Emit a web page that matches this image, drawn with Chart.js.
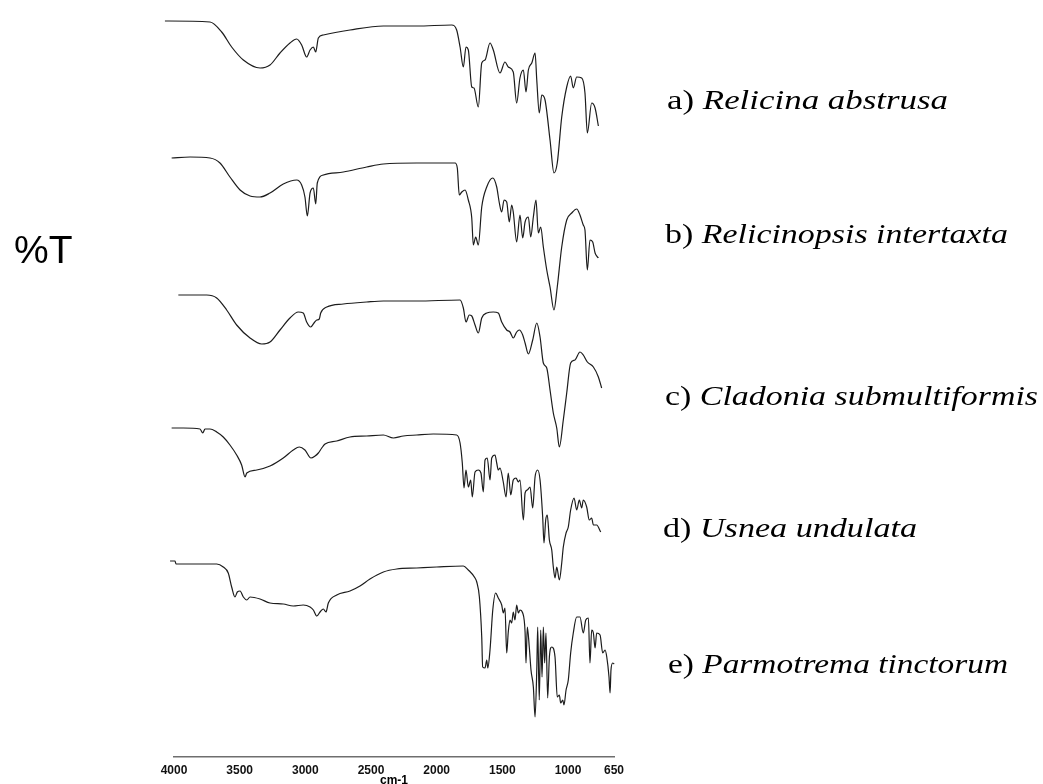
<!DOCTYPE html>
<html>
<head>
<meta charset="utf-8">
<script src="https://cdn.jsdelivr.net/npm/chart.js@4.4.1/dist/chart.umd.min.js"></script>
<style>
  html, body { margin: 0; padding: 0; background: #fff; }
  #irChart { display: block; }
</style>
</head>
<body>
<canvas id="irChart" width="1043" height="784"></canvas>
<script>
// x tick labels (wavenumber, cm-1)
const tickValues = [4000, 3500, 3000, 2500, 2000, 1500, 1000, 650];

const seriesTags = ["a)", "b)", "c)", "d)", "e)"];
const seriesNames = ["Relicina abstrusa", "Relicinopsis intertaxta", "Cladonia submultiformis", "Usnea undulata", "Parmotrema tinctorum"];

// each spectrum: wavenumber + stacked %T reading (offset traces)
const wnA = [4069,3726,3637,3561,3472,3345,3269,3193,3117,3066,3028,2990,2964,2939,2921,2901,2863,2660,2406,2152,1886,1848,1822,1797,1777,1759,1733,1716,1683,1657,1632,1594,1569,1518,1480,1455,1417,1391,1366,1340,1320,1302,1276,1251,1238,1219,1200,1175,1137,1107,1082,1048,1010,980,960,934,896,871,853,820,794,769];
const tA = [73.6,73.5,72.5,71.0,69.7,68.9,69.2,70.4,71.4,71.8,71.2,70.0,70.7,71.0,70.5,71.9,72.2,72.7,73.1,73.1,73.2,72.7,71.0,69.0,71.0,70.7,67.0,66.9,65.0,69.4,69.7,71.4,70.7,68.4,69.5,69.0,68.5,65.4,67.9,68.7,66.5,68.7,69.4,70.4,67.7,64.4,66.2,65.7,61.7,58.4,59.4,64.0,67.0,68.1,66.9,68.0,67.9,66.4,62.4,65.4,64.9,63.1];

const wnB = [4018,3878,3726,3650,3574,3497,3421,3345,3269,3168,3066,3028,3003,2985,2964,2939,2921,2909,2863,2711,2533,2406,2152,1860,1843,1828,1809,1784,1759,1733,1721,1703,1683,1657,1619,1573,1543,1523,1505,1487,1467,1447,1429,1417,1391,1366,1345,1327,1302,1284,1264,1244,1226,1208,1188,1162,1137,1107,1082,1048,1010,972,934,909,884,871,853,833,812,794,769];
const tB = [59.9,60.0,59.9,59.4,58.0,56.7,56.1,56.0,56.4,57.3,57.7,57.2,56.0,54.1,56.4,56.9,55.3,57.4,58.2,58.5,59.0,59.3,59.4,59.4,58.9,56.2,56.5,56.7,55.7,53.9,51.2,52.0,51.2,55.0,57.0,57.9,57.0,55.4,54.5,55.7,55.5,53.5,55.2,54.5,51.5,54.2,51.9,53.5,54.0,52.0,54.0,55.7,52.4,53.0,51.0,48.7,47.0,44.7,47.0,51.0,53.7,54.4,54.8,54.2,53.2,52.7,48.7,51.7,51.5,50.4,49.9];

const wnC = [3967,3751,3675,3599,3523,3421,3332,3269,3193,3117,3054,3016,2990,2959,2934,2913,2894,2883,2837,2711,2533,2406,2152,1822,1797,1777,1752,1733,1708,1683,1657,1619,1569,1531,1505,1467,1442,1417,1391,1371,1345,1327,1302,1269,1238,1213,1188,1162,1137,1112,1086,1066,1036,1010,980,947,909,884,853,807,769,744];
const tC = [46.2,46.2,45.9,44.7,43.2,41.9,41.3,41.5,42.7,43.9,44.5,44.4,43.5,43.0,43.4,43.7,43.8,44.4,45.0,45.3,45.5,45.6,45.6,45.7,44.9,43.5,44.2,44.1,43.2,42.4,43.9,44.4,44.5,44.4,43.5,42.7,42.5,41.9,42.5,42.7,42.2,41.4,40.3,41.7,43.4,42.0,39.4,38.9,36.7,34.4,32.9,31.0,33.7,36.4,39.4,39.7,40.5,40.2,39.5,39.0,38.0,36.9];

const wnD = [4018,3929,3802,3781,3764,3726,3675,3625,3574,3523,3485,3459,3446,3370,3269,3168,3092,3046,3003,2957,2926,2901,2875,2850,2761,2660,2533,2406,2330,2254,2152,2026,1848,1822,1805,1792,1777,1759,1741,1729,1708,1683,1663,1645,1632,1615,1594,1581,1556,1543,1531,1518,1493,1472,1455,1436,1417,1396,1378,1366,1340,1327,1310,1289,1269,1251,1231,1213,1193,1183,1170,1158,1142,1124,1112,1099,1086,1066,1048,1036,1015,998,980,954,934,914,896,884,858,838,820,807,782,751];
const tD = [32.9,32.9,32.8,32.4,32.8,32.8,32.5,32.0,31.2,30.2,29.2,28.0,28.4,28.7,29.1,29.9,30.7,31.0,30.7,29.9,30.1,30.4,30.9,31.3,31.6,32.0,32.1,32.2,31.9,32.1,32.2,32.3,32.2,31.4,29.4,26.9,28.7,27.0,27.7,26.0,28.5,28.7,28.4,26.5,29.7,29.9,27.7,29.9,30.2,29.4,28.7,28.9,27.5,26.0,28.4,26.2,27.7,27.9,27.5,27.7,23.7,26.4,26.7,27.0,24.9,28.0,28.7,27.7,24.0,21.4,23.7,24.2,21.7,20.7,19.0,17.9,19.0,17.7,19.4,21.0,22.4,23.0,24.7,25.9,24.7,25.7,24.9,25.7,25.0,23.7,23.9,23.2,23.2,22.5];

const wnE = [4030,3992,3985,3929,3675,3625,3587,3561,3536,3518,3497,3472,3446,3421,3345,3269,3168,3092,3016,2964,2939,2913,2888,2863,2843,2825,2761,2660,2584,2508,2406,2304,2152,2000,1797,1759,1708,1695,1675,1657,1650,1632,1619,1611,1594,1573,1551,1531,1505,1493,1480,1467,1455,1442,1429,1417,1404,1391,1378,1366,1345,1327,1320,1310,1295,1282,1264,1251,1238,1231,1219,1208,1198,1188,1178,1168,1155,1142,1124,1099,1082,1066,1056,1040,1031,1015,998,980,960,934,909,884,865,845,833,820,807,794,782,756,736,718,705,688,680,673,660,648];
const tE = [19.6,19.6,19.3,19.3,19.3,19.0,18.4,17.0,16.0,16.5,16.6,16.0,15.7,16.0,15.8,15.4,15.3,15.1,15.2,15.0,14.7,14.1,14.5,14.8,14.5,15.4,16.2,16.6,17.1,17.8,18.5,18.8,18.9,19.0,19.1,18.7,17.9,17.5,16.0,12.0,9.0,8.9,9.7,8.9,10.7,14.7,16.4,15.9,15.2,14.4,14.9,10.4,12.5,13.7,13.4,14.5,13.7,15.2,14.4,14.7,14.4,12.5,9.4,13.0,11.0,8.7,7.0,4.0,8.7,13.0,5.7,12.7,8.0,13.0,9.4,12.4,5.9,10.0,11.0,10.0,6.0,6.2,5.4,5.7,5.2,6.7,7.7,10.4,12.4,14.0,14.0,12.4,13.7,13.9,9.4,12.7,12.4,10.9,12.4,12.2,10.4,10.7,10.0,8.0,6.4,8.7,9.4,9.3];

const spectra = [[wnA, tA], [wnB, tB], [wnC, tC], [wnD, tD], [wnE, tE]];

// where the species labels sit (baseline) and how wide they run
const labelSpots = [
    { x: 667, y: 109, w: 281 },
    { x: 665, y: 243, w: 343 },
    { x: 665, y: 405, w: 373 },
    { x: 663, y: 537, w: 254 },
    { x: 668, y: 673, w: 340 }
];

const serif = '"Liberation Serif", "Times New Roman", serif';

const textPlugin = {
    id: "irText",
    beforeDraw(chart) {
        const ctx = chart.ctx;
        ctx.save();
        ctx.fillStyle = "#fff";
        ctx.fillRect(0, 0, chart.width, chart.height);
        ctx.restore();
    },
    afterDraw(chart) {
        const ctx = chart.ctx;
        ctx.save();
        ctx.fillStyle = "#000";
        ctx.textBaseline = "alphabetic";
        ctx.textAlign = "left";

        // y label
        ctx.font = '39px "Liberation Sans", Arial, sans-serif';
        ctx.fillText("%T", 14, 263);

        // species labels
        seriesTags.forEach((tag, i) => {
            const spot = labelSpots[i];
            ctx.font = "27px " + serif;
            const tagW = ctx.measureText(tag + " ").width;
            ctx.font = "italic 27px " + serif;
            const nameW = ctx.measureText(seriesNames[i]).width;
            const sx = spot.w / (tagW + nameW);
            ctx.save();
            ctx.translate(spot.x, spot.y);
            ctx.scale(sx, 1);
            ctx.font = "27px " + serif;
            ctx.fillText(tag, 0, 0);
            ctx.font = "italic 27px " + serif;
            ctx.fillText(seriesNames[i], tagW, 0);
            ctx.restore();
        });

        // x unit
        const xs = chart.scales.x;
        ctx.font = 'bold 12px "Liberation Sans", Arial, sans-serif';
        ctx.textAlign = "center";
        ctx.fillText("cm-1", (xs.left + xs.right) / 2, 784);
        ctx.restore();
    }
};

new Chart(document.getElementById("irChart"), {
    type: "line",
    data: {
        datasets: spectra.map((s, i) => ({
            label: seriesTags[i] + " " + seriesNames[i],
            data: s[0].map((wn, j) => ({ x: wn, y: s[1][j] })),
            borderColor: "#1c1c1c",
            borderWidth: 1.2,
            pointRadius: 0,
            cubicInterpolationMode: "monotone",
            fill: false,
            clip: false
        }))
    },
    options: {
        responsive: false,
        animation: false,
        layout: {
            padding: { left: 174, right: 429, top: 7, bottom: 0 }
        },
        plugins: {
            legend: { display: false },
            tooltip: { enabled: false }
        },
        scales: {
            x: {
                type: "linear",
                reverse: true,
                min: 650,
                max: 4000,
                afterFit: (scale) => { scale.height = 27; },
                afterBuildTicks: (scale) => {
                    scale.ticks = tickValues.map(v => ({ value: v }));
                },
                grid: {
                    display: false,
                    drawTicks: false
                },
                border: {
                    display: true,
                    color: "#6e6e6e",
                    width: 1.6
                },
                ticks: {
                    autoSkip: false,
                    maxRotation: 0,
                    padding: 6,
                    color: "#111",
                    font: { family: '"Liberation Sans", Arial, sans-serif', size: 12, weight: "bold" },
                    callback: (v) => String(v)
                }
            },
            y: {
                display: false,
                min: 0,
                max: 75
            }
        }
    },
    plugins: [textPlugin]
});
</script>
</body>
</html>
